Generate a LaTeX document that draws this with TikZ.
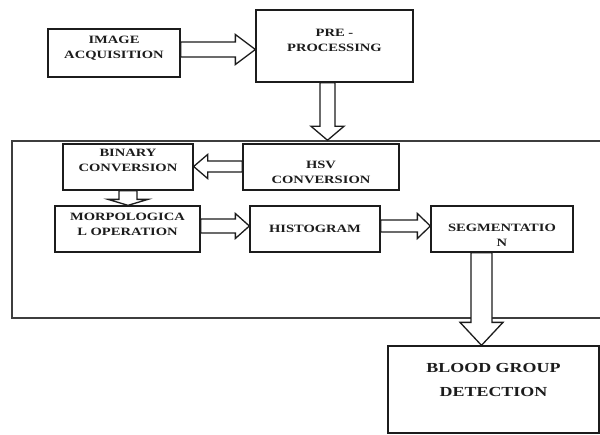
\documentclass[tikz,border=0pt]{standalone}
\usepackage{fontspec}
\usetikzlibrary{calc}
\newfontfamily\boxfont[FakeStretch=1.3]{Liberation Serif}
\definecolor{BgInk}{RGB}{28,28,28}
\tikzset{
  bg/box/.style={
    draw=BgInk,
    line width=1.3pt,
    fill=white,
    inner sep=0pt
  },
  bg/frame/.style={
    draw=BgInk!85,
    line width=1.5pt,
    inner sep=0pt
  },
  bg/label/.style={
    align=center,
    text=BgInk,
    inner sep=0pt,
    font=\boxfont\bfseries\fontsize{11.2}{15}\selectfont
  },
  bg/biglabel/.style={
    bg/label,
    font=\boxfont\bfseries\fontsize{13.8}{24}\selectfont
  },
  bg/arrow/.style={draw=BgInk, line width=1.3pt, fill=white, line join=miter}
}
% #1 tail, #2 tip, #3 shaft half width, #4 head half width, #5 head base offset from tip
\newcommand{\bgharrow}[5]{%
  \draw[bg/arrow] ($(#1)+(0,#3)$) -- ($(#2)+(#5,#3)$) -- ($(#2)+(#5,#4)$) -- (#2)
    -- ($(#2)+(#5,-#4)$) -- ($(#2)+(#5,-#3)$) -- ($(#1)+(0,-#3)$) -- cycle;}
\newcommand{\bgvarrow}[5]{%
  \draw[bg/arrow] ($(#1)+(#3,0)$) -- ($(#2)+(#3,#5)$) -- ($(#2)+(#4,#5)$) -- (#2)
    -- ($(#2)+(-#4,#5)$) -- ($(#2)+(-#3,#5)$) -- ($(#1)+(-#3,0)$) -- cycle;}

\begin{document}
\begin{tikzpicture}[x=1pt,y=-1pt]
  \useasboundingbox (0,0) rectangle (600,434);
  \clip (0,0) rectangle (600,434);

  % outer stage frame
  \node[bg/frame,minimum width=591pt,minimum height=177pt] (stage) at (307.5,229.5) {};

  % blocks
  \node[bg/box,minimum width=132pt,minimum height=48pt] (acq) at (114,53) {};
  \node[bg/box,minimum width=157pt,minimum height=72pt] (pre) at (334.5,46) {};
  \node[bg/box,minimum width=130pt,minimum height=46pt] (bin) at (128,167) {};
  \node[bg/box,minimum width=156pt,minimum height=46pt] (hsv) at (321,167) {};
  \node[bg/box,minimum width=145pt,minimum height=46pt] (mor) at (127.5,229) {};
  \node[bg/box,minimum width=130pt,minimum height=46pt] (his) at (315,229) {};
  \node[bg/box,minimum width=142pt,minimum height=46pt] (seg) at (502,229) {};
  \node[bg/box,minimum width=211pt,minimum height=87pt] (det) at (493.5,389.5) {};

  % texts
  \node[bg/label] (acq-text) at ([yshift=4.5pt]acq.center) {IMAGE\\ACQUISITION};
  \node[bg/label] (pre-text) at ([yshift=6pt]pre.center) {PRE -\\PROCESSING};
  \node[bg/label] (bin-text) at ([yshift=6.5pt]bin.center) {BINARY\\CONVERSION};
  \node[bg/label] (hsv-text) at ([yshift=-5.5pt]hsv.center) {HSV\\CONVERSION};
  \node[bg/label] (mor-text) at ([yshift=4.5pt]mor.center) {MORPOLOGICA\\L OPERATION};
  \node[bg/label] (his-text) at (his.center) {HISTOGRAM};
  \node[bg/label] (seg-text) at ([yshift=-6pt]seg.center) {SEGMENTATIO\\N};
  \node[bg/biglabel] (det-text) at ([yshift=9.5pt]det.center) {BLOOD GROUP\\DETECTION};

  % block arrows
  \coordinate (a1s) at ($(acq.east)+(0,-3.5)$);
  \coordinate (a1e) at (pre.west |- a1s);
  \bgharrow{a1s}{a1e}{7.5}{15}{-20}
  \coordinate (a2s) at ($(pre.south)+(-7,0)$);
  \coordinate (a2e) at (a2s |- stage.north);
  \bgvarrow{a2s}{a2e}{7.5}{16.5}{-14}
  \coordinate (a3s) at ($(hsv.west)+(0,-0.5)$);
  \coordinate (a3e) at (bin.east |- a3s);
  \bgharrow{a3s}{a3e}{5.5}{12}{14}
  \coordinate (a4s) at (bin.south);
  \coordinate (a4e) at (a4s |- mor.north);
  \bgvarrow{a4s}{a4e}{9}{20}{-6}
  \coordinate (a5s) at ($(mor.east)+(0,-3)$);
  \coordinate (a5e) at (his.west |- a5s);
  \bgharrow{a5s}{a5e}{7}{12.5}{-14}
  \coordinate (a6s) at ($(his.east)+(0,-3)$);
  \coordinate (a6e) at (seg.west |- a6s);
  \bgharrow{a6s}{a6e}{6}{12.5}{-13}
  \coordinate (a7s) at ($(seg.south)+(-20.5,0)$);
  \coordinate (a7e) at (a7s |- det.north);
  \bgvarrow{a7s}{a7e}{10.5}{21.5}{-23}
\end{tikzpicture}
\end{document}
